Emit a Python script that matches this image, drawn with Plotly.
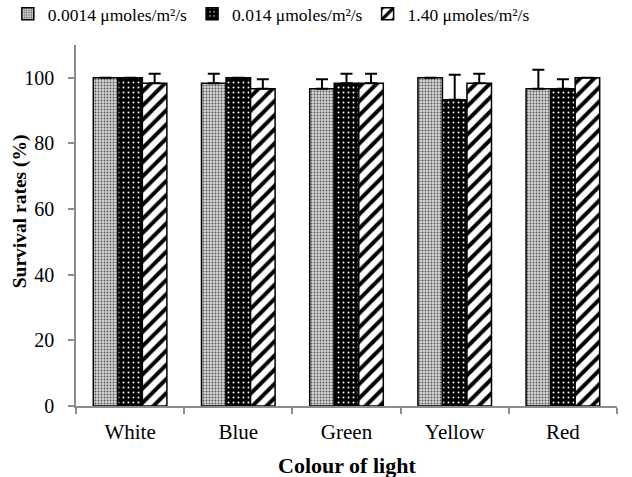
import plotly.graph_objects as go

# Survival rates by light colour for three light intensities
colours = ["White", "Blue", "Green", "Yellow", "Red"]
series_names = ["0.0014 μmoles/m²/s", "0.014 μmoles/m²/s", "1.40 μmoles/m²/s"]

rate_low = [100, 98.33, 96.67, 100, 96.67]
rate_mid = [100, 100, 98.33, 93.33, 96.67]
rate_high = [98.33, 96.67, 98.33, 98.33, 100]

err_low = [0, 2.89, 2.89, 0, 5.77]
err_mid = [0, 0, 2.89, 7.64, 2.89]
err_high = [2.89, 2.89, 2.89, 2.89, 0]

FONT = "Liberation Serif, Times New Roman, serif"

patterns = [
    dict(shape=".", fgcolor="#555555", bgcolor="#d4d4d4", size=3, solidity=0.3, fillmode="replace"),
    dict(shape=".", fgcolor="#ffffff", bgcolor="#000000", size=5, solidity=0.12, fillmode="replace"),
    dict(shape="/", fgcolor="#000000", bgcolor="#ffffff", size=10, solidity=0.4, fillmode="replace"),
]

fig = go.Figure()
for name, vals, errs, pat in zip(series_names,
                                 [rate_low, rate_mid, rate_high],
                                 [err_low, err_mid, err_high],
                                 patterns):
    fig.add_trace(go.Bar(
        x=colours,
        y=vals,
        name=name,
        marker=dict(color="#ffffff", pattern=pat,
                    line=dict(color="#000000", width=1.5)),
        error_y=dict(type="data", symmetric=False,
                     array=[e if e > 0 else None for e in errs],
                     arrayminus=[0] * len(errs),
                     color="#000000", thickness=2, width=6),
    ))

axis_grey = "#8c8c8c"
fig.update_layout(
    width=632, height=477,
    margin=dict(l=76, r=15, t=45, b=71, autoexpand=False),
    paper_bgcolor="#ffffff", plot_bgcolor="#ffffff",
    barmode="group", bargap=0.32, bargroupgap=0,
    font=dict(family=FONT, color="#000000", size=19),
    legend=dict(orientation="h", x=-0.126, xanchor="left", y=1.086, yanchor="middle",
                font=dict(family=FONT, size=17.5, color="#000000"),
                itemwidth=30, tracegroupgap=0, traceorder="normal"),
    xaxis=dict(
        showline=True, linecolor=axis_grey, linewidth=1.5,
        ticks="outside", tickson="boundaries", ticklen=6, tickcolor=axis_grey, tickwidth=1.5,
        tickfont=dict(family=FONT, size=21, color="#000000"),
        ticklabelstandoff=6,
        showgrid=False, zeroline=False,
    ),
    yaxis=dict(
        range=[0, 110], dtick=20, tick0=0,
        showline=True, linecolor=axis_grey, linewidth=1.5,
        ticks="outside", ticklen=6, tickcolor=axis_grey, tickwidth=1.5,
        tickfont=dict(family=FONT, size=20, color="#000000"),
        ticklabelstandoff=10,
        showgrid=False, zeroline=False,
    ),
    annotations=[
        dict(text="<b>Colour of light</b>", xref="paper", yref="paper",
             x=0.501, y=-0.166, xanchor="center", yanchor="middle", showarrow=False,
             font=dict(family=FONT, size=22, color="#000000")),
        dict(text="<b>Survival rates (%)</b>", xref="paper", yref="paper",
             x=-0.102, y=0.539, xanchor="center", yanchor="middle", showarrow=False,
             textangle=-90, font=dict(family=FONT, size=19.5, color="#000000")),
    ],
)

fig.write_html("out.html")
